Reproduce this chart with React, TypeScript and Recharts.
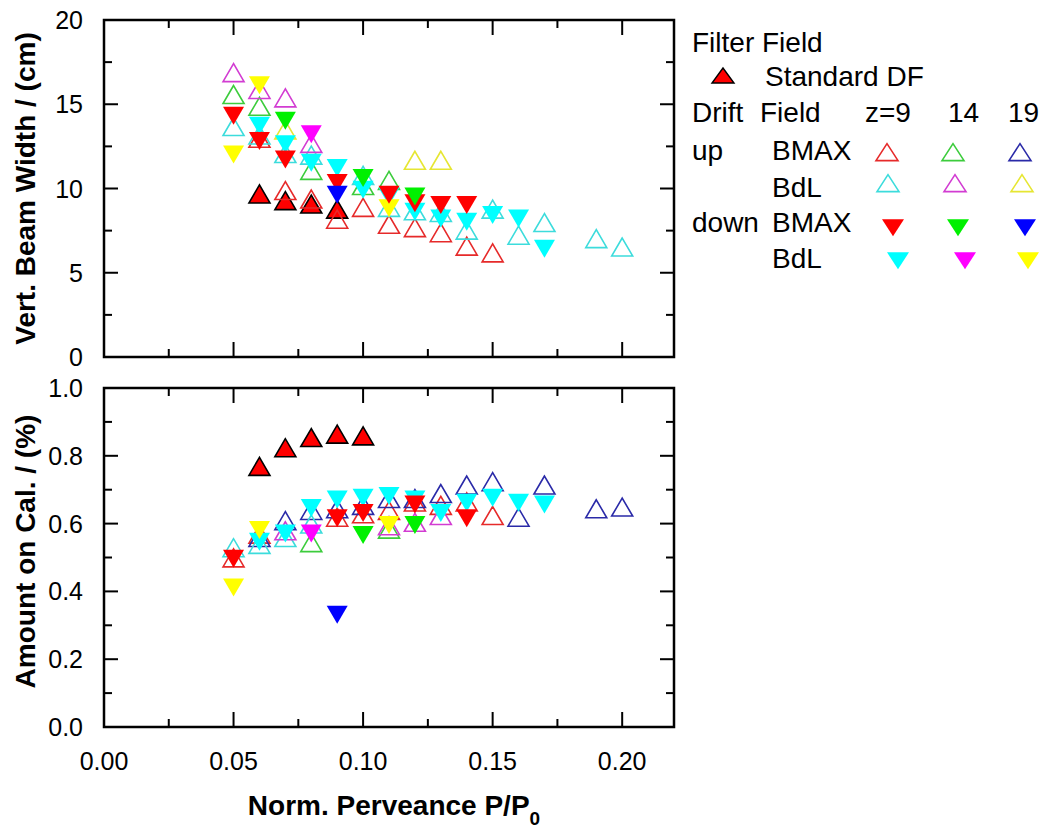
import React from "react";
import { ScatterChart, Scatter, XAxis, YAxis, ReferenceArea, Legend } from "recharts";

type Pt = [number, number];

// perveance ticks / value ticks
const xTicks = [0, 0.025, 0.05, 0.075, 0.1, 0.125, 0.15, 0.175, 0.2];
const widthTicks = [0, 2.5, 5, 7.5, 10, 12.5, 15, 17.5, 20];
const calTicks = [0, 0.1, 0.2, 0.3, 0.4, 0.5, 0.6, 0.7, 0.8, 0.9, 1.0];

// ---- Vert. beam width / (cm) ----
const stdDfWidth: Pt[] = [[0.06, 9.5], [0.07, 9.1], [0.08, 8.9], [0.09, 8.6]];
const upBmax9Width: Pt[] = [[0.06, 12.8], [0.07, 9.7], [0.08, 9.2], [0.09, 8.0], [0.1, 8.7], [0.11, 7.7], [0.12, 7.5], [0.13, 7.2], [0.14, 6.4], [0.15, 6.0]];
const upBmax14Width: Pt[] = [[0.05, 15.4], [0.06, 14.7], [0.08, 10.9], [0.1, 10.0], [0.11, 10.3]];
const upBdl9Width: Pt[] = [[0.05, 13.5], [0.06, 13.0], [0.07, 11.9], [0.08, 11.8], [0.1, 10.6], [0.11, 8.7], [0.12, 8.5], [0.13, 8.4], [0.14, 7.35], [0.15, 8.6], [0.16, 7.05], [0.17, 7.8], [0.19, 6.85], [0.2, 6.35]];
const upBdl14Width: Pt[] = [[0.05, 16.7], [0.06, 15.7], [0.07, 15.2], [0.08, 12.5]];
const upBdl19Width: Pt[] = [[0.07, 13.3], [0.12, 11.5], [0.13, 11.5]];
const downBmax9Width: Pt[] = [[0.05, 14.5], [0.06, 13.0], [0.07, 11.9], [0.09, 10.5], [0.11, 9.8], [0.12, 9.3], [0.13, 9.2], [0.14, 9.2]];
const downBmax14Width: Pt[] = [[0.07, 14.2], [0.1, 10.8], [0.12, 9.7]];
const downBmax19Width: Pt[] = [[0.09, 9.8]];
const downBdl9Width: Pt[] = [[0.06, 13.9], [0.07, 12.8], [0.08, 11.7], [0.09, 11.4], [0.1, 10.1], [0.11, 9.7], [0.12, 8.8], [0.13, 8.4], [0.14, 8.2], [0.15, 8.6], [0.16, 8.4], [0.17, 6.6]];
const downBdl14Width: Pt[] = [[0.08, 13.4]];
const downBdl19Width: Pt[] = [[0.05, 12.2], [0.06, 16.3], [0.11, 9.0]];

// ---- Amount on Cal. / (%) ----
const stdDfCal: Pt[] = [[0.06, 0.76], [0.07, 0.815], [0.08, 0.845], [0.09, 0.855], [0.1, 0.85]];
const upBmax9Cal: Pt[] = [[0.05, 0.49], [0.06, 0.56], [0.09, 0.61], [0.1, 0.62], [0.11, 0.63], [0.12, 0.655], [0.13, 0.645], [0.14, 0.655], [0.15, 0.615]];
const upBmax14Cal: Pt[] = [[0.08, 0.535], [0.11, 0.575]];
const upBmax19Cal: Pt[] = [[0.06, 0.55], [0.07, 0.6], [0.08, 0.63], [0.09, 0.635], [0.1, 0.645], [0.11, 0.665], [0.12, 0.665], [0.13, 0.68], [0.14, 0.705], [0.15, 0.715], [0.16, 0.61], [0.17, 0.705], [0.19, 0.635], [0.2, 0.64]];
const upBdl9Cal: Pt[] = [[0.05, 0.52], [0.06, 0.53], [0.07, 0.55], [0.08, 0.59]];
const upBdl14Cal: Pt[] = [[0.07, 0.57], [0.11, 0.585], [0.12, 0.595], [0.13, 0.615]];
const downBmax9Cal: Pt[] = [[0.05, 0.505], [0.09, 0.625], [0.1, 0.64], [0.12, 0.665], [0.14, 0.625]];
const downBmax14Cal: Pt[] = [[0.1, 0.575], [0.12, 0.605]];
const downBmax19Cal: Pt[] = [[0.09, 0.34]];
const downBdl9Cal: Pt[] = [[0.06, 0.555], [0.07, 0.58], [0.08, 0.655], [0.09, 0.68], [0.1, 0.685], [0.11, 0.69], [0.12, 0.68], [0.13, 0.64], [0.14, 0.67], [0.15, 0.685], [0.16, 0.67], [0.17, 0.665]];
const downBdl14Cal: Pt[] = [[0.08, 0.58]];
const downBdl19Cal: Pt[] = [[0.05, 0.42], [0.06, 0.59], [0.11, 0.605]];

const FONT = '"Liberation Sans", Arial, Helvetica, sans-serif';

type Series = {
  name: string;
  dir: "up" | "down";
  filled: boolean;
  color: string;
  edge?: string;
  width: Pt[];
  cal: Pt[];
};

// drawing order: std DF, open, filled (last on top)
const series: Series[] = [
  { name: "Standard DF", dir: "up", filled: true, color: "#ff0000", edge: "#000", width: stdDfWidth, cal: stdDfCal },
  { name: "up BMAX z=9", dir: "up", filled: false, color: "#e62a2a", width: upBmax9Width, cal: upBmax9Cal },
  { name: "up BMAX z=14", dir: "up", filled: false, color: "#3ccc3c", width: upBmax14Width, cal: upBmax14Cal },
  { name: "up BMAX z=19", dir: "up", filled: false, color: "#2a2aa8", width: [], cal: upBmax19Cal },
  { name: "up BdL z=9", dir: "up", filled: false, color: "#3cdcdc", width: upBdl9Width, cal: upBdl9Cal },
  { name: "up BdL z=14", dir: "up", filled: false, color: "#d23cd2", width: upBdl14Width, cal: upBdl14Cal },
  { name: "up BdL z=19", dir: "up", filled: false, color: "#e6e632", width: upBdl19Width, cal: [] },
  { name: "down BdL z=9", dir: "down", filled: true, color: "#00ffff", width: downBdl9Width, cal: downBdl9Cal },
  { name: "down BdL z=14", dir: "down", filled: true, color: "#ff00ff", width: downBdl14Width, cal: downBdl14Cal },
  { name: "down BdL z=19", dir: "down", filled: true, color: "#ffff00", width: downBdl19Width, cal: downBdl19Cal },
  { name: "down BMAX z=9", dir: "down", filled: true, color: "#ff0000", width: downBmax9Width, cal: downBmax9Cal },
  { name: "down BMAX z=14", dir: "down", filled: true, color: "#00f000", width: downBmax14Width, cal: downBmax14Cal },
  { name: "down BMAX z=19", dir: "down", filled: true, color: "#0000ff", width: downBmax19Width, cal: downBmax19Cal },
];

const pts = (a: Pt[]) => a.map(([x, y]) => ({ x, y }));
const isStep = (v: number, step: number) => Math.abs(v / step - Math.round(v / step)) < 1e-6;

function tri(cx: number, cy: number, dir: "up" | "down", hw: number, h: number) {
  const a = (2 * h) / 3;
  const b = h / 3;
  return dir === "up"
    ? `${cx},${cy - a} ${cx - hw},${cy + b} ${cx + hw},${cy + b}`
    : `${cx - hw},${cy - b} ${cx + hw},${cy - b} ${cx},${cy + a}`;
}

const makeShape = (s: Series) => (props: any) => {
  const { cx, cy } = props;
  if (cx == null || cy == null) return <g />;
  return (
    <polygon
      points={tri(cx, cy, s.dir, 10.5, 18)}
      fill={s.filled ? s.color : "none"}
      stroke={s.edge ? s.edge : s.color}
      strokeWidth={s.filled && !s.edge ? 0 : 1.6}
      strokeLinejoin="miter"
    />
  );
};

function XTick(props: any) {
  const { x, payload, top, bottom, labels } = props;
  const v = payload.value as number;
  const cx = payload.coordinate ?? x;
  const major = isStep(v, 0.05);
  const len = major ? 15 : 8;
  return (
    <g>
      <line x1={cx} y1={bottom} x2={cx} y2={bottom - len} stroke="#000" strokeWidth={2} />
      <line x1={cx} y1={top} x2={cx} y2={top + len} stroke="#000" strokeWidth={2} />
      {labels && major && (
        <text x={cx} y={bottom + 43} textAnchor="middle" fontSize={25} fontFamily={FONT} fill="#000">
          {v.toFixed(2)}
        </text>
      )}
    </g>
  );
}

function YTick(props: any) {
  const { y, payload, left, right, step, digits } = props;
  const v = payload.value as number;
  const cy = payload.coordinate ?? y;
  const major = isStep(v, step);
  const len = major ? 14 : 8;
  return (
    <g>
      <line x1={left} y1={cy} x2={left + len} y2={cy} stroke="#000" strokeWidth={2} />
      <line x1={right} y1={cy} x2={right - len} y2={cy} stroke="#000" strokeWidth={2} />
      {major && (
        <text x={left - 21} y={cy + 9} textAnchor="end" fontSize={25} fontFamily={FONT} fill="#000">
          {v.toFixed(digits)}
        </text>
      )}
    </g>
  );
}

function YTitle(props: any) {
  const { viewBox, text, shift = 0 } = props;
  const vb = viewBox || { x: 0, y: 0, width: 0, height: 0 };
  const x = vb.x + 35;
  const y = vb.y + vb.height / 2 + shift;
  return (
    <text x={x} y={y} transform={`rotate(-90, ${x}, ${y})`} textAnchor="middle" fontSize={28} fontWeight="bold" fontFamily={FONT} fill="#000">
      {text}
    </text>
  );
}

function XTitle(props: any) {
  const { viewBox } = props;
  const vb = viewBox || { x: 0, y: 0, width: 0, height: 0 };
  return (
    <text x={vb.x + vb.width / 2 + 5} y={vb.y + 88} textAnchor="middle" fontSize={28} fontWeight="bold" fontFamily={FONT} fill="#000">
      Norm. Perveance P/P
      <tspan fontSize={19} dy={10}>0</tspan>
    </text>
  );
}

const legendCols = {
  upBmax: [887, 953, 1020],
  upBdl: [888, 955, 1022],
  downBmax: [893, 958, 1025],
  downBdl: [898, 965, 1028],
};

function LegendBox() {
  const t = { fontSize: 28, fontFamily: FONT, fill: "#000" };
  const find = (n: string) => series.find((s) => s.name === n)!;
  const mark = (s: Series, cx: number, cy: number, key: string) => (
    <polygon
      key={key}
      points={tri(cx, cy, s.dir, 11, 17)}
      fill={s.filled ? s.color : "none"}
      stroke={s.edge ? s.edge : s.color}
      strokeWidth={s.filled && !s.edge ? 0 : 1.6}
    />
  );
  const zs = ["z=9", "z=14", "z=19"];
  return (
    <svg width={370} height={290} viewBox="680 0 370 290" style={{ overflow: "visible" }}>
      <text x={692} y={52} {...t}>Filter Field</text>
      <polygon points={tri(723, 78, "up", 11, 15)} fill="#ff0000" stroke="#000" strokeWidth={1.4} />
      <text x={765} y={86} {...t}>Standard DF</text>
      <text x={692} y={122} {...t}>Drift</text>
      <text x={760} y={122} {...t}>Field</text>
      <text x={865} y={122} {...t}>z=9</text>
      <text x={948} y={122} {...t}>14</text>
      <text x={1008} y={122} {...t}>19</text>
      <text x={692} y={160} {...t}>up</text>
      <text x={772} y={160} {...t}>BMAX</text>
      <text x={772} y={197} {...t}>BdL</text>
      <text x={692} y={232} {...t}>down</text>
      <text x={772} y={232} {...t}>BMAX</text>
      <text x={772} y={268} {...t}>BdL</text>
      {legendCols.upBmax.map((cx, i) => mark(find(`up BMAX ${zs[i]}`), cx, 155, `a${i}`))}
      {legendCols.upBdl.map((cx, i) => mark(find(`up BdL ${zs[i]}`), cx, 186, `b${i}`))}
      {legendCols.downBmax.map((cx, i) => mark(find(`down BMAX ${zs[i]}`), cx, 225, `c${i}`))}
      {legendCols.downBdl.map((cx, i) => mark(find(`down BdL ${zs[i]}`), cx, 258, `d${i}`))}
    </svg>
  );
}

export default function App() {
  return (
    <div style={{ position: "absolute", left: 0, top: 0, width: 1050, height: 830, background: "#fff" }}>
      <div style={{ position: "absolute", left: 0, top: 0 }}>
        <ScatterChart width={1050} height={400} margin={{ top: 20, right: 376, bottom: 13, left: 0 }}>
          <XAxis
            type="number"
            dataKey="x"
            domain={[0, 0.22]}
            ticks={xTicks}
            interval={0}
            height={30}
            axisLine={false}
            tickLine={false}
            tickSize={0}
            tick={<XTick top={20} bottom={357} labels={false} />}
          />
          <YAxis
            type="number"
            dataKey="y"
            domain={[0, 20]}
            ticks={widthTicks}
            interval={0}
            width={104}
            axisLine={false}
            tickLine={false}
            tickSize={0}
            tickMargin={21}
            tick={<YTick left={104} right={674} step={5} digits={0} />}
            label={<YTitle text="Vert. Beam Width / (cm)" />}
          />
          <ReferenceArea x1={0} x2={0.22} y1={0} y2={20} fill="none" stroke="#000" strokeWidth={2.5} ifOverflow="visible" />
          {series
            .filter((s) => s.width.length > 0)
            .map((s) => (
              <Scatter key={s.name} name={s.name} data={pts(s.width)} shape={makeShape(s)} isAnimationActive={false} />
            ))}
          <Legend
            layout="vertical"
            align="center"
            verticalAlign="middle"
            content={() => <LegendBox />}
            wrapperStyle={{ left: 680, top: 0, width: 370, height: 290 }}
          />
        </ScatterChart>
      </div>
      <div style={{ position: "absolute", left: 0, top: 370 }}>
        <ScatterChart width={700} height={460} margin={{ top: 18, right: 26, bottom: 3, left: 0 }}>
          <XAxis
            type="number"
            dataKey="x"
            domain={[0, 0.22]}
            ticks={xTicks}
            interval={0}
            height={100}
            axisLine={false}
            tickLine={false}
            tickSize={0}
            tick={<XTick top={18} bottom={357} labels />}
            label={<XTitle />}
          />
          <YAxis
            type="number"
            dataKey="y"
            domain={[0, 1]}
            ticks={calTicks}
            interval={0}
            width={104}
            axisLine={false}
            tickLine={false}
            tickSize={0}
            tickMargin={21}
            tick={<YTick left={104} right={674} step={0.2} digits={1} />}
            label={<YTitle text="Amount on Cal. / (%)" shift={-6} />}
          />
          <ReferenceArea x1={0} x2={0.22} y1={0} y2={1} fill="none" stroke="#000" strokeWidth={2.5} ifOverflow="visible" />
          {series
            .filter((s) => s.cal.length > 0)
            .map((s) => (
              <Scatter key={s.name} name={s.name} data={pts(s.cal)} shape={makeShape(s)} isAnimationActive={false} />
            ))}
        </ScatterChart>
      </div>
    </div>
  );
}
